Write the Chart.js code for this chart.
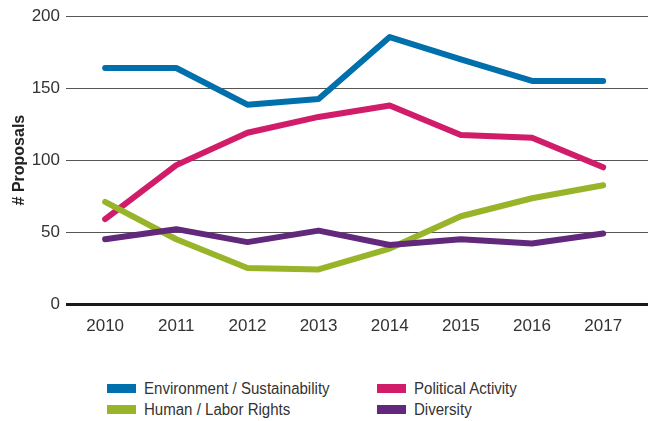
<!DOCTYPE html>
<html>
<head>
<meta charset="utf-8">
<script src="https://cdn.jsdelivr.net/npm/chart.js@4.4.0/dist/chart.umd.min.js"></script>
<style>
  body { margin: 0; background: #fff; }
  #wrap { position: relative; width: 650px; height: 421px; }
  #legend { position: absolute; left: 107px; top: 380px; width: 540px;
            font-family: "Liberation Sans", Arial, sans-serif; font-size: 16px; color: #333; }
  #legend .item { position: absolute; white-space: nowrap; line-height: 18px; }
  #legend .box { display: inline-block; width: 29px; height: 9px; margin-right: 8px; vertical-align: 1px; }
  #legend .txt { display: inline-block; transform: scaleX(0.94); transform-origin: left center; }
</style>
</head>
<body>
<div id="wrap">
  <canvas id="myChart" width="650" height="341"></canvas>
  <div id="legend"></div>
</div>
<script>
// Shareholder proposals by topic
var years = [2010, 2011, 2012, 2013, 2014, 2015, 2016, 2017];
var environment = [164, 164, 138.5, 142.5, 185.5, 170, 155, 155];
var political = [59, 96.5, 119, 130, 138, 117.5, 115.5, 95];
var humanRights = [71, 45, 25, 24, 38.5, 61, 73.5, 82.5];
var diversity = [45, 52, 43, 51, 41, 45, 42, 49];

var labels = ["Environment / Sustainability", "Political Activity", "Human / Labor Rights", "Diversity"];
var colors = ["#0070ad", "#d11c6a", "#98b52a", "#62287c"];
var series = [environment, political, humanRights, diversity];

var font = '"Liberation Sans", Arial, sans-serif';

var datasets = series.map(function(values, i) {
    return {
        label: labels[i],
        data: values.map(function(v, j) { return { x: years[j], y: v }; }),
        borderColor: colors[i],
        backgroundColor: colors[i],
        borderWidth: 6,
        borderCapStyle: 'round',
        borderJoinStyle: 'round',
        pointRadius: 0,
        tension: 0,
        fill: false
    };
});

// draw order: purple and green under the others
var order = [3, 2, 1, 0];
var drawn = order.map(function(i) { return datasets[i]; });

// vertical axis title, centred on the plot area
var yTitle = {
    id: 'yTitle',
    afterDraw: function(chart) {
        var c = chart.ctx;
        var area = chart.chartArea;
        c.save();
        c.translate(20, (area.top + area.bottom) / 2);
        c.rotate(-Math.PI / 2);
        c.font = 'bold 16px ' + font;
        c.fillStyle = '#222';
        c.textAlign = 'center';
        c.textBaseline = 'middle';
        c.fillText('# Proposals', 0, 0);
        c.restore();
    }
};

var ctx = document.getElementById("myChart");
var chart = new Chart(ctx, {
    type: 'line',
    data: { datasets: drawn },
    plugins: [yTitle],
    options: {
        responsive: false,
        animation: false,
        layout: { padding: { top: 13, right: 2, left: 0, bottom: 0 } },
        plugins: { legend: { display: false }, tooltip: { enabled: false } },
        scales: {
            x: {
                type: 'linear',
                min: 2009.45,
                max: 2017.63,
                afterBuildTicks: function(axis) {
                    axis.ticks = years.map(function(y) { return { value: y }; });
                },
                afterFit: function(axis) { axis.height = 37; },
                grid: { display: false },
                border: { display: false },
                ticks: {
                    color: '#333',
                    font: { family: font, size: 17 },
                    padding: 4,
                    callback: function(v) { return String(v); }
                }
            },
            y: {
                min: 0,
                max: 200,
                afterFit: function(axis) { axis.width = 66; },
                ticks: {
                    stepSize: 50,
                    color: '#333',
                    font: { family: font, size: 17 },
                    padding: 6
                },
                grid: {
                    drawTicks: false,
                    color: function(c) { return c.tick && c.tick.value === 0 ? '#1a1a1a' : '#555'; },
                    lineWidth: function(c) { return c.tick && c.tick.value === 0 ? 3 : 1; }
                },
                border: { display: false }
            }
        }
    }
});

// legend in two columns
var legend = document.getElementById("legend");
var spots = [[0, 0], [270, 0], [0, 21], [270, 21]];
labels.forEach(function(name, i) {
    var item = document.createElement("div");
    item.className = "item";
    item.style.left = spots[i][0] + "px";
    item.style.top = spots[i][1] + "px";
    item.innerHTML = '<span class="box" style="background:' + colors[i] + '"></span><span class="txt">' + name + '</span>';
    legend.appendChild(item);
});
</script>
</body>
</html>
